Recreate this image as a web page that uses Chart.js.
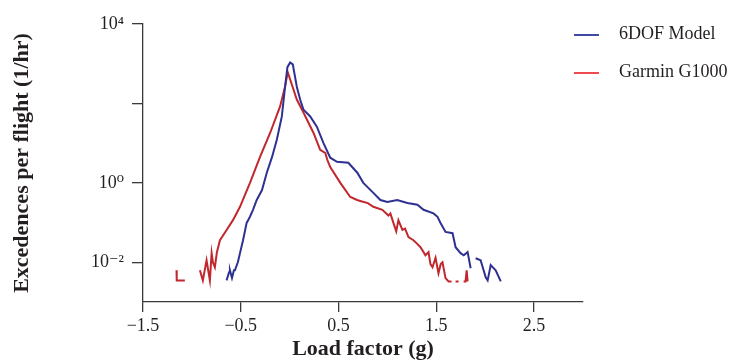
<!DOCTYPE html>
<html>
<head>
<meta charset="utf-8">
<script src="https://cdn.jsdelivr.net/npm/chart.js@4.4.1/dist/chart.umd.min.js"></script>
<style>
  body { margin: 0; background: #fff; }
  #wrap { position: relative; width: 729px; height: 363px; }
  .leg { position: absolute; left: 574px; font: 18px "Liberation Serif", serif; color: #231f20; }
  .leg span { display: inline-block; width: 25px; height: 2px; vertical-align: middle; margin-right: 20px; }
</style>
</head>
<body>
<div id="wrap">
  <canvas id="grafico" width="729" height="363"></canvas>
  <div class="leg" style="top: 23px;"><span style="background:#3f4aa3"></span>6DOF Model</div>
  <div class="leg" style="top: 61px;"><span style="background:#ef4a4f"></span>Garmin G1000</div>
</div>
<script>
// Valores (fator de carga x excedências por voo)
const xModelo = [-0.645, -0.62, -0.611, -0.59, -0.57, -0.56, -0.53, -0.508, -0.477, -0.44,
  -0.406, -0.375, -0.337, -0.283, -0.234, -0.18, -0.132, -0.08, -0.047, -0.023,
  0.005, 0.032, 0.073, 0.107, 0.141, 0.21, 0.278, 0.346, 0.415, 0.484,
  0.60, 0.692, 0.753, 0.856, 0.928, 0.999, 1.10, 1.204, 1.307, 1.369,
  1.471, 1.512, 1.543, 1.594, 1.666, 1.697, 1.748, 1.78, 1.82, 1.851,
  1.87, 1.902, 1.953, 2.005, 2.025, 2.056, 2.107, 2.159];
const yModelo = [0.0035, 0.0056, 0.0063, 0.004, 0.0063, 0.0063, 0.010, 0.017, 0.036, 0.098,
  0.14, 0.21, 0.37, 0.66, 1.8, 4.5, 12, 47, 263, 820,
  1075, 960, 263, 125, 70, 47, 26, 10, 4.3, 3.4,
  3.2, 1.8, 1.0, 0.56, 0.37, 0.33, 0.37, 0.31, 0.28, 0.21,
  0.17, 0.14, 0.098, 0.058, 0.054, 0.024, 0.017, 0.015, 0.018, 0.0071,
  null, 0.0126, 0.0112, 0.0042, 0.0035, 0.0085, 0.0063, 0.0033];

const xGarmin = [-1.157, -1.155, -1.072, -1.0, -0.918, -0.888, -0.85, -0.816, -0.798, -0.785,
  -0.765, -0.744, -0.713, -0.645, -0.58, -0.508, -0.406, -0.303, -0.2, -0.098,
  -0.047, -0.02, 0.005, 0.073, 0.141, 0.244, 0.312, 0.346, 0.364, 0.385,
  0.415, 0.518, 0.62, 0.69, 0.74, 0.80, 0.856, 0.948, 1.01, 1.03,
  1.061, 1.09, 1.112, 1.153, 1.18, 1.215, 1.266, 1.30, 1.338, 1.389,
  1.42, 1.44, 1.461, 1.492, 1.522, 1.545, 1.563, 1.594, 1.625, 1.656,
  1.67, 1.697, 1.728, 1.74, 1.779, 1.799, 1.81, 1.82];
const yGarmin = [0.0063, 0.0035, 0.0035, null, 0.0063, 0.0035, 0.0112, 0.0035, 0.017, 0.010,
  0.0075, 0.018, 0.036, 0.065, 0.115, 0.25, 1.0, 4.5, 18, 84,
  263, 615, 400, 125, 59, 18, 6.8, 6.0, 5.7, 3.8,
  2.5, 1.0, 0.44, 0.37, 0.34, 0.31, 0.25, 0.21, 0.15, 0.17,
  0.098, 0.06, 0.115, 0.065, 0.07, 0.043, 0.036, 0.03, 0.024, 0.015,
  0.018, 0.009, 0.0075, 0.013, 0.0053, 0.009, 0.010, 0.004, 0.0033, 0.0033,
  null, 0.0033, 0.0033, null, 0.0033, 0.0033, 0.0063, 0.0033];

const ticksX = [-1.5, -0.5, 0.5, 1.5, 2.5];
const ticksY = [0.01, 1, 100, 10000];
const rotulosY = { 0.01: '10\u207B\u00B2', 1: '10\u2070', 100: '', 10000: '10\u2074' };

function montarPontos(xs, ys) {
  return xs.map((x, i) => ({ x: x, y: ys[i] }));
}

const fonteSerif = '"Liberation Serif", "DejaVu Serif", serif';
const corEixo = '#3a3a3a';

document.addEventListener('DOMContentLoaded', function() {
  const ctx = document.getElementById('grafico').getContext('2d');
  new Chart(ctx, {
    type: 'line',
    data: {
      datasets: [
        {
          label: '6DOF Model',
          data: montarPontos(xModelo, yModelo),
          borderColor: '#2e3192',
          borderWidth: 2,
          pointRadius: 0,
          tension: 0,
          spanGaps: false
        },
        {
          label: 'Garmin G1000',
          data: montarPontos(xGarmin, yGarmin),
          borderColor: '#c1272d',
          borderWidth: 2,
          pointRadius: 0,
          tension: 0,
          spanGaps: false
        }
      ]
    },
    options: {
      responsive: false,
      animation: false,
      layout: { padding: { top: 24, right: 146, left: 0, bottom: 0 } },
      plugins: { legend: { display: false }, tooltip: { enabled: false } },
      scales: {
        x: {
          type: 'linear',
          min: -1.5,
          max: 3.0,
          afterBuildTicks: function(scale) { scale.ticks = ticksX.map(v => ({ value: v })); },
          afterFit: function(scale) { scale.height = 61; },
          ticks: {
            font: { family: fonteSerif, size: 18 },
            color: '#231f20',
            padding: 3,
            maxRotation: 0,
            callback: v => (v < 0 ? '\u2212' + Math.abs(v).toFixed(1) : v.toFixed(1))
          },
          grid: { drawOnChartArea: false, color: corEixo, tickLength: 10, lineWidth: 1.3 },
          border: { color: corEixo, width: 1.3 },
          title: {
            display: true,
            text: 'Load factor (g)',
            font: { family: fonteSerif, size: 22, weight: 'bold' },
            color: '#231f20',
            padding: { top: 0, bottom: 0 }
          }
        },
        y: {
          type: 'logarithmic',
          min: 0.001,
          max: 10000,
          afterBuildTicks: function(scale) { scale.ticks = ticksY.map(v => ({ value: v })); },
          afterFit: function(scale) { scale.width = 143; },
          ticks: {
            font: { family: fonteSerif, size: 18 },
            color: '#231f20',
            padding: 8,
            callback: v => rotulosY[v]
          },
          grid: { drawOnChartArea: false, color: corEixo, tickLength: 11, lineWidth: 1.3 },
          border: { color: corEixo, width: 1.3 },
          title: {
            display: true,
            text: 'Excedences per flight (1/hr)',
            font: { family: fonteSerif, size: 22, weight: 'bold' },
            color: '#231f20',
            padding: { top: 9, bottom: 0 }
          }
        }
      }
    }
  });
});
</script>
</body>
</html>
